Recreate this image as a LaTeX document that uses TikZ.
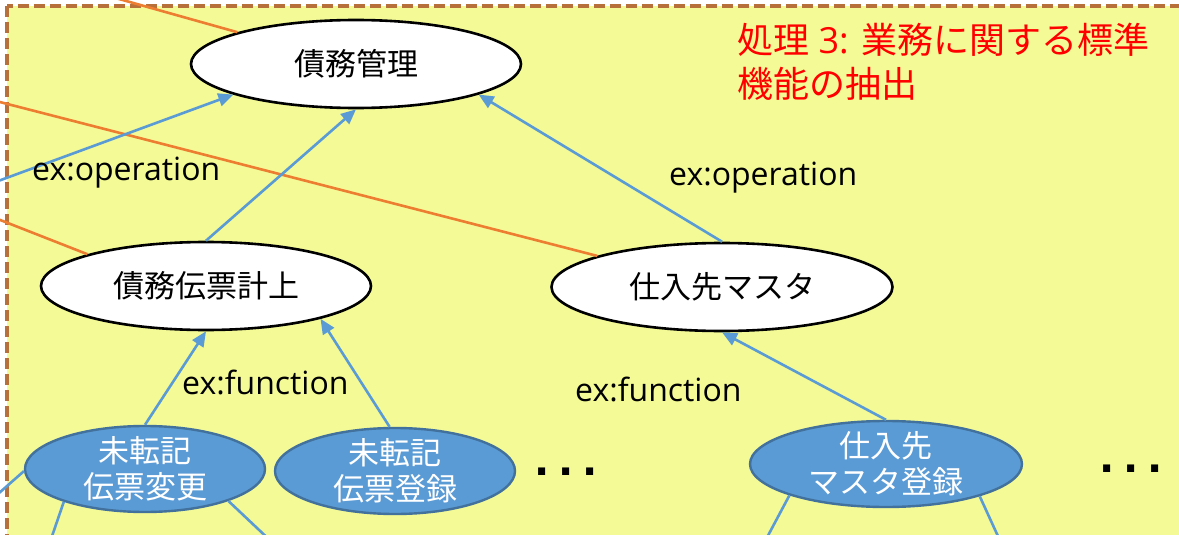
\documentclass[tikz,border=0pt]{standalone}
\usepackage{fontspec}
\setmainfont{Open Sans}
\newfontfamily\jp{Noto Sans CJK JP}
\newfontfamily\dv{DejaVu Sans}
\usetikzlibrary{shapes.geometric,arrows.meta}
\definecolor{bgyellow}{HTML}{F3FA96}
\definecolor{dashbrown}{HTML}{B8703A}
\definecolor{oline}{HTML}{ED7D31}
\definecolor{bline}{HTML}{5B9BD5}
\definecolor{bborder}{HTML}{41719C}
\tikzset{
  wnode/.style={ellipse, draw=black, line width=2.6pt, fill=white, inner sep=-10pt,
    font=\jp\fontsize{31}{36}\selectfont},
  bnode/.style={ellipse, draw=bborder, line width=2.4pt, fill=bline, inner sep=-10pt,
    text=white, align=center, font=\jp\fontsize{31}{36}\selectfont},
  barrow/.style={draw=bline, line width=2.6pt, -{Triangle[length=15pt,width=13pt]}},
  bplain/.style={draw=bline, line width=2.6pt},
  oplain/.style={draw=oline, line width=2.6pt},
  lbl/.style={anchor=base west, inner sep=0pt, font=\fontsize{32}{38}\selectfont},
  dotsnode/.style={inner sep=0pt, font=\dv\fontsize{40}{40}\selectfont\bfseries},
}
\begin{document}
\begin{tikzpicture}[x=1pt,y=-1pt]
\useasboundingbox (0,0) rectangle (1179,535);
\clip (0,0) rectangle (1179,535);
\draw[fill=bgyellow, draw=dashbrown, line width=3.5pt, dash pattern=on 11pt off 5pt] (7,6) rectangle (1220,580);

% nodes
\node[wnode, minimum width=330pt, minimum height=88pt] (a) at (356,64) {債務管理};
\node[wnode, minimum width=330pt, minimum height=88pt] (b) at (206,286) {債務伝票計上};
\node[wnode, minimum width=341pt, minimum height=88pt] (c) at (722,287) {仕入先マスタ};
\node[bnode, minimum width=240pt, minimum height=86pt] (d) at (145,469) {未転記\\伝票変更};
\node[bnode, minimum width=240pt, minimum height=86pt] (e) at (395,471) {未転記\\伝票登録};
\node[bnode, minimum width=272pt, minimum height=86pt] (f) at (886,464) {仕入先\\マスタ登録};

% free ends
\coordinate (o1) at (87,-10);
\coordinate (o2) at (-10,99.5);
\coordinate (o3) at (-10,216);
\coordinate (l1) at (-10,184);
\coordinate (l2) at (-10,501);
\coordinate (dd1) at (49,545);
\coordinate (dd2) at (275,545);
\coordinate (ff1) at (763,545);
\coordinate (ff2) at (1002,545);

% orange lines
\draw[oplain] (o1) -- (a.165);
\draw[oplain] (o2) -- (c.166);
\draw[oplain] (o3) -- (b.165);

% blue arrows
\draw[barrow] (l1) -- (a.-166);
\draw[barrow] (b.north) -- (a.south);
\draw[barrow] (c.north) -- (a.-14);
\draw[barrow] (d.north) -- (b.south);
\draw[barrow] (e.97) -- (b.-16);
\draw[barrow] (f.north) -- (c.south);

% lines leaving the picture
\draw[bplain] (l2) -- (d.-179);
\draw[bplain] (d.-158) -- (dd1);
\draw[bplain] (d.-21) -- (dd2);
\draw[bplain] (f.-162) -- (ff1);
\draw[bplain] (f.-19) -- (ff2);

% labels
\node[lbl] (op1) at (32,180) {ex:operation};
\node[lbl] (op2) at (669,185) {ex:operation};
\node[lbl] (fn1) at (182,394) {ex:function};
\node[lbl] (fn2) at (575,401) {ex:function};

\node[anchor=base west, inner sep=0pt, align=left, text=red,
  font=\fontsize{36}{44}\selectfont] (title) at (737,98)
  {{\jp 処理} 3: {\jp 業務に関する標準}\\{\jp 機能の抽出}};

\node[dotsnode] (dots1) at (566,472) {.\hspace{9pt}.\hspace{9pt}.};
\node[dotsnode] (dots2) at (1131,469) {.\hspace{9pt}.\hspace{9pt}.};
\end{tikzpicture}
\end{document}
